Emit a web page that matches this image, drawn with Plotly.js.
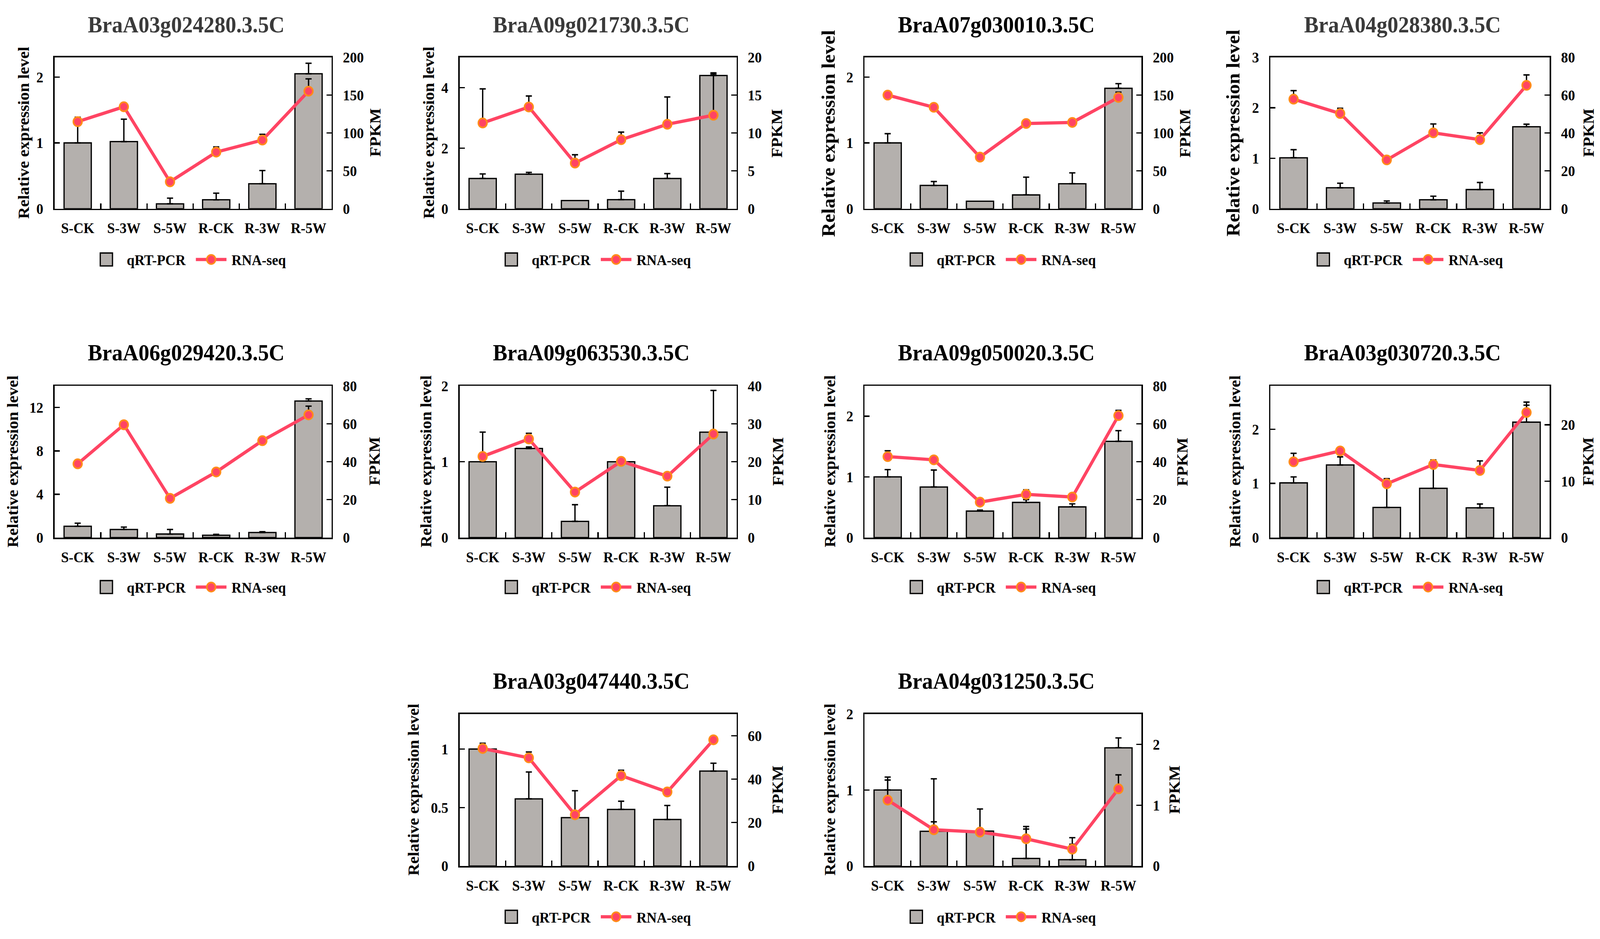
<!DOCTYPE html>
<html><head><meta charset="utf-8">
<script src="https://cdn.plot.ly/plotly-3.0.1.min.js"></script>
<style>
html,body{margin:0;padding:0;background:#fff;overflow:hidden;width:100vw;height:100vh;}
#wrap{position:absolute;left:0;top:0;width:1568px;height:870px;transform-origin:0 0;}
#chart{width:1568px;height:870px;}
</style></head><body><div id="wrap"><div id="chart"></div></div>
<script>
// ---------- data ----------
const categories = ["S-CK", "S-3W", "S-5W", "R-CK", "R-3W", "R-5W"];
const geneNames = ["BraA03g024280.3.5C", "BraA09g021730.3.5C", "BraA07g030010.3.5C", "BraA04g028380.3.5C",
                   "BraA06g029420.3.5C", "BraA09g063530.3.5C", "BraA09g050020.3.5C", "BraA03g030720.3.5C",
                   "BraA03g047440.3.5C", "BraA04g031250.3.5C"];
// qRT-PCR relative expression (left axis)
const qpcrValues = [
  [1.0, 1.02, 0.074, 0.136, 0.38, 2.05],
  [1.0, 1.14, 0.27, 0.30, 1.0, 4.40],
  [1.0, 0.354, 0.114, 0.21, 0.38, 1.83],
  [1.01, 0.416, 0.114, 0.178, 0.38, 1.625],
  [1.05, 0.75, 0.33, 0.22, 0.47, 12.6],
  [1.0, 1.175, 0.214, 1.0, 0.42, 1.39],
  [1.0, 0.833, 0.437, 0.58, 0.506, 1.586],
  [1.01, 1.34, 0.557, 0.91, 0.55, 2.13],
  [1.0, 0.574, 0.414, 0.484, 0.398, 0.812],
  [1.0, 0.457, 0.46, 0.10, 0.083, 1.555]
];
const qpcrErrors = [
  [0.39, 0.34, 0.087, 0.10, 0.20, 0.16],
  [0.15, 0.06, 0, 0.28, 0.16, 0.05],
  [0.14, 0.06, 0, 0.27, 0.165, 0.07],
  [0.16, 0.09, 0.04, 0.07, 0.14, 0.05],
  [0.28, 0.22, 0.42, 0.08, 0.08, 0.2],
  [0.39, 0.02, 0.22, 0, 0.245, 0.55],
  [0.12, 0.28, 0.015, 0.045, 0.05, 0.176],
  [0.11, 0.15, 0.53, 0.44, 0.07, 0.37],
  [0.05, 0.23, 0.23, 0.07, 0.12, 0.067],
  [0.17, 0.69, 0.29, 0.42, 0.29, 0.13]
];
// RNA-seq FPKM (right axis)
const fpkmValues = [
  [115, 134.7, 35.6, 74.8, 90.7, 155.3],
  [11.33, 13.44, 6.03, 9.12, 11.16, 12.35],
  [150.1, 134, 68.2, 112.6, 114, 147],
  [57.9, 50.3, 25.8, 40.1, 36.5, 65.2],
  [38.9, 59.5, 20.7, 34.6, 51.1, 64.7],
  [21.4, 26.0, 12.0, 20.1, 16.2, 27.3],
  [42.7, 41.0, 18.7, 22.8, 21.4, 64.3],
  [13.44, 15.36, 9.54, 12.96, 11.9, 22.18],
  [54.1, 49.8, 23.6, 41.6, 34.1, 58.1],
  [1.084, 0.597, 0.558, 0.448, 0.278, 1.269]
];
const fpkmErrors = [
  [0, 5, 0, 6.9, 7.6, 16.2],
  [4.5, 1.45, 1.1, 1.0, 3.6, 5.6],
  [0, 0, 0, 0, 0, 7],
  [4.5, 2.8, 0, 4.7, 3.6, 5.5],
  [0, 0, 0, 0, 0, 4.6],
  [0, 1.5, 0, 0, 0, 0],
  [3.1, 0, 0, 2.4, 0, 2.8],
  [1.5, 0, 0.86, 0.8, 1.7, 1.3],
  [0, 2.7, 0, 2.5, 0, 0],
  [0.33, 0.13, 0, 0.16, 0.08, 0.23]
];
const leftRanges = [[0,2.3],[0,5],[0,2.3],[0,3],[0,14],[0,2],[0,2.5],[0,2.8],[0,1.3],[0,2]];
const leftTicks = [[0,1,2],[0,2,4],[0,1,2],[0,1,2,3],[0,4,8,12],[0,1,2],[0,1,2],[0,1,2],[0,0.5,1],[0,1,2]];
const rightRanges = [[0,200],[0,20],[0,200],[0,80],[0,80],[0,40],[0,80],[0,26.9],[0,70],[0,2.5]];
const rightTicks = [[0,50,100,150,200],[0,5,10,15,20],[0,50,100,150,200],[0,20,40,60,80],[0,20,40,60,80],
                    [0,10,20,30,40],[0,20,40,60,80],[0,10,20],[0,20,40,60],[0,1,2]];
const leftTitle = "Relative expression level";
const rightTitle = "FPKM";
const legendNames = ["qRT-PCR", "RNA-seq"];

// ---------- layout geometry (design units; scaled to the window by CSS) ----------
const W = 1568, H = 870;
const colX = [[53.5,325.0],[450.4,721.8],[847.3,1118.7],[1244.9,1518.8]];
const rowY = [[53.1,193.4],[357.5,498.1],[661.5,802.4]];
const titleRowY = [23.5, 327, 631];
const legendRowY = [240.5, 544, 849.5];
const panelGrid = [[0,0],[0,1],[0,2],[0,3],[1,0],[1,1],[1,2],[1,3],[2,1],[2,2]];
const leftTitleOffset = [31,31,35,36,41,33,34,34.5,45,34];
const leftTitleSize = [15.3,15.3,18.4,18.4,15.3,15.3,15.3,15.3,15.3,15.3];
const rightTitleOffset = [42,39,42,37.5,42,40.5,40,37.5,40.5,32.5];
const titleColors = ["#3a3a3a","#3a3a3a","#000","#3a3a3a","#000","#000","#000","#000","#000","#000"];

const FONT = "Liberation Serif, Times New Roman, serif";
const BAR_FILL = "#b4b0ad";
const LINE_COLOR = "#ff4463";
const MARKER_EDGE = "#ff8c1a";

// fit the design to the actual viewport
(function fit() {
  const vw = window.innerWidth || document.documentElement.clientWidth || 4338;
  const vh = window.innerHeight || document.documentElement.clientHeight || 2405;
  document.getElementById("wrap").style.transform = "scale(" + (vw / W) + "," + (vh / H) + ")";
})();

function axKey(letter, n) { return n === 1 ? letter + "axis" : letter + "axis" + n; }
function axRef(letter, n) { return n === 1 ? letter : letter + n; }
function posErr(arr) {
  return {
    array: arr.map(e => e > 0 ? e : NaN),
    minus: arr.map(e => e > 0 ? 0 : NaN)
  };
}

const traces = [];
const layout = {
  width: W, height: H,
  margin: {l: 0, r: 0, t: 0, b: 0},
  paper_bgcolor: "#fff", plot_bgcolor: "rgba(0,0,0,0)",
  font: {family: FONT, size: 13.7, color: "#000", weight: 700},
  showlegend: true,
  hovermode: false,
  annotations: []
};

geneNames.forEach((gene, k) => {
  const [r, c] = panelGrid[k];
  const [x0, x1] = colX[c];
  const [y0, y1] = rowY[r];
  const xn = k + 1, yl = 2 * k + 1, yr = 2 * k + 2;
  const legendId = k === 0 ? "legend" : "legend" + (k + 1);
  const xDom = [x0 / W, x1 / W];
  const yDom = [1 - y1 / H, 1 - y0 / H];

  layout[axKey("x", xn)] = {
    domain: xDom, anchor: axRef("y", yl), type: "category",
    categoryorder: "array", categoryarray: categories,
    range: [-0.5, 5.5], showgrid: false, zeroline: false,
    showline: true, linecolor: "#000", linewidth: 1.3, mirror: true,
    ticks: "inside", tickson: "boundaries", ticklen: 5, tickwidth: 1.2, tickcolor: "#000",
    tickfont: {family: FONT, size: 13.7, color: "#000", weight: 700},
    ticklabelstandoff: 5, fixedrange: true
  };
  layout[axKey("y", yl)] = {
    domain: yDom, anchor: axRef("x", xn), range: leftRanges[k],
    tickmode: "array", tickvals: leftTicks[k],
    showgrid: false, zeroline: false,
    showline: true, linecolor: "#000", linewidth: 1.3,
    ticks: "inside", ticklen: 5, tickwidth: 1.2, tickcolor: "#000",
    tickfont: {family: FONT, size: 13.7, color: "#000", weight: 700},
    ticklabelstandoff: 7, fixedrange: true
  };
  layout[axKey("y", yr)] = {
    overlaying: axRef("y", yl), side: "right", anchor: axRef("x", xn),
    range: rightRanges[k], tickmode: "array", tickvals: rightTicks[k],
    showgrid: false, zeroline: false,
    showline: true, linecolor: "#000", linewidth: 1.3,
    ticks: "inside", ticklen: 5, tickwidth: 1.2, tickcolor: "#000",
    tickfont: {family: FONT, size: 13.7, color: "#000", weight: 700},
    ticklabelstandoff: 7, fixedrange: true
  };

  const qe = posErr(qpcrErrors[k]);
  traces.push({
    type: "bar", name: legendNames[0], legend: legendId,
    x: categories, y: qpcrValues[k],
    xaxis: axRef("x", xn), yaxis: axRef("y", yl),
    width: 0.59,
    marker: {color: BAR_FILL, line: {color: "#000", width: 1.2}},
    error_y: {type: "data", symmetric: false, array: qe.array, arrayminus: qe.minus,
              color: "#000", thickness: 1.3, width: 3},
    hoverinfo: "skip"
  });
  const fe = posErr(fpkmErrors[k]);
  traces.push({
    type: "scatter", mode: "lines+markers", name: legendNames[1], legend: legendId,
    x: categories, y: fpkmValues[k],
    xaxis: axRef("x", xn), yaxis: axRef("y", yr),
    line: {color: LINE_COLOR, width: 3},
    marker: {color: LINE_COLOR, size: 8.5, line: {color: MARKER_EDGE, width: 1.5}},
    error_y: {type: "data", symmetric: false, array: fe.array, arrayminus: fe.minus,
              color: "#000", thickness: 1.3, width: 3},
    cliponaxis: false, hoverinfo: "skip"
  });

  const cx = (x0 + x1) / 2;
  layout[legendId] = {
    orientation: "h", x: (cx - 4) / W, y: 1 - legendRowY[r] / H,
    xanchor: "center", yanchor: "middle", xref: "paper", yref: "paper",
    bgcolor: "rgba(0,0,0,0)", borderwidth: 0, tracegroupgap: 0,
    font: {family: FONT, size: 13.7, color: "#000", weight: 700}
  };

  // panel title
  layout.annotations.push({
    text: gene, xref: "paper", yref: "paper",
    x: (cx - 7) / W, y: 1 - titleRowY[r] / H, xanchor: "center", yanchor: "middle",
    showarrow: false, font: {family: FONT, size: 21.3, color: titleColors[k], weight: 700}
  });
  // left axis title
  layout.annotations.push({
    text: leftTitle, xref: "paper", yref: "paper", textangle: -90,
    x: (x0 - leftTitleOffset[k]) / W, y: 1 - ((y0 + y1) / 2) / H,
    xanchor: "center", yanchor: "middle", showarrow: false,
    font: {family: FONT, size: leftTitleSize[k], color: "#000", weight: 700}
  });
  // right axis title
  layout.annotations.push({
    text: rightTitle, xref: "paper", yref: "paper", textangle: -90,
    x: (x1 + rightTitleOffset[k]) / W, y: 1 - ((y0 + y1) / 2) / H,
    xanchor: "center", yanchor: "middle", showarrow: false,
    font: {family: FONT, size: 15.3, color: "#000", weight: 700}
  });
});

Plotly.newPlot("chart", traces, layout, {staticPlot: true, displayModeBar: false, responsive: false});
</script></body></html>
